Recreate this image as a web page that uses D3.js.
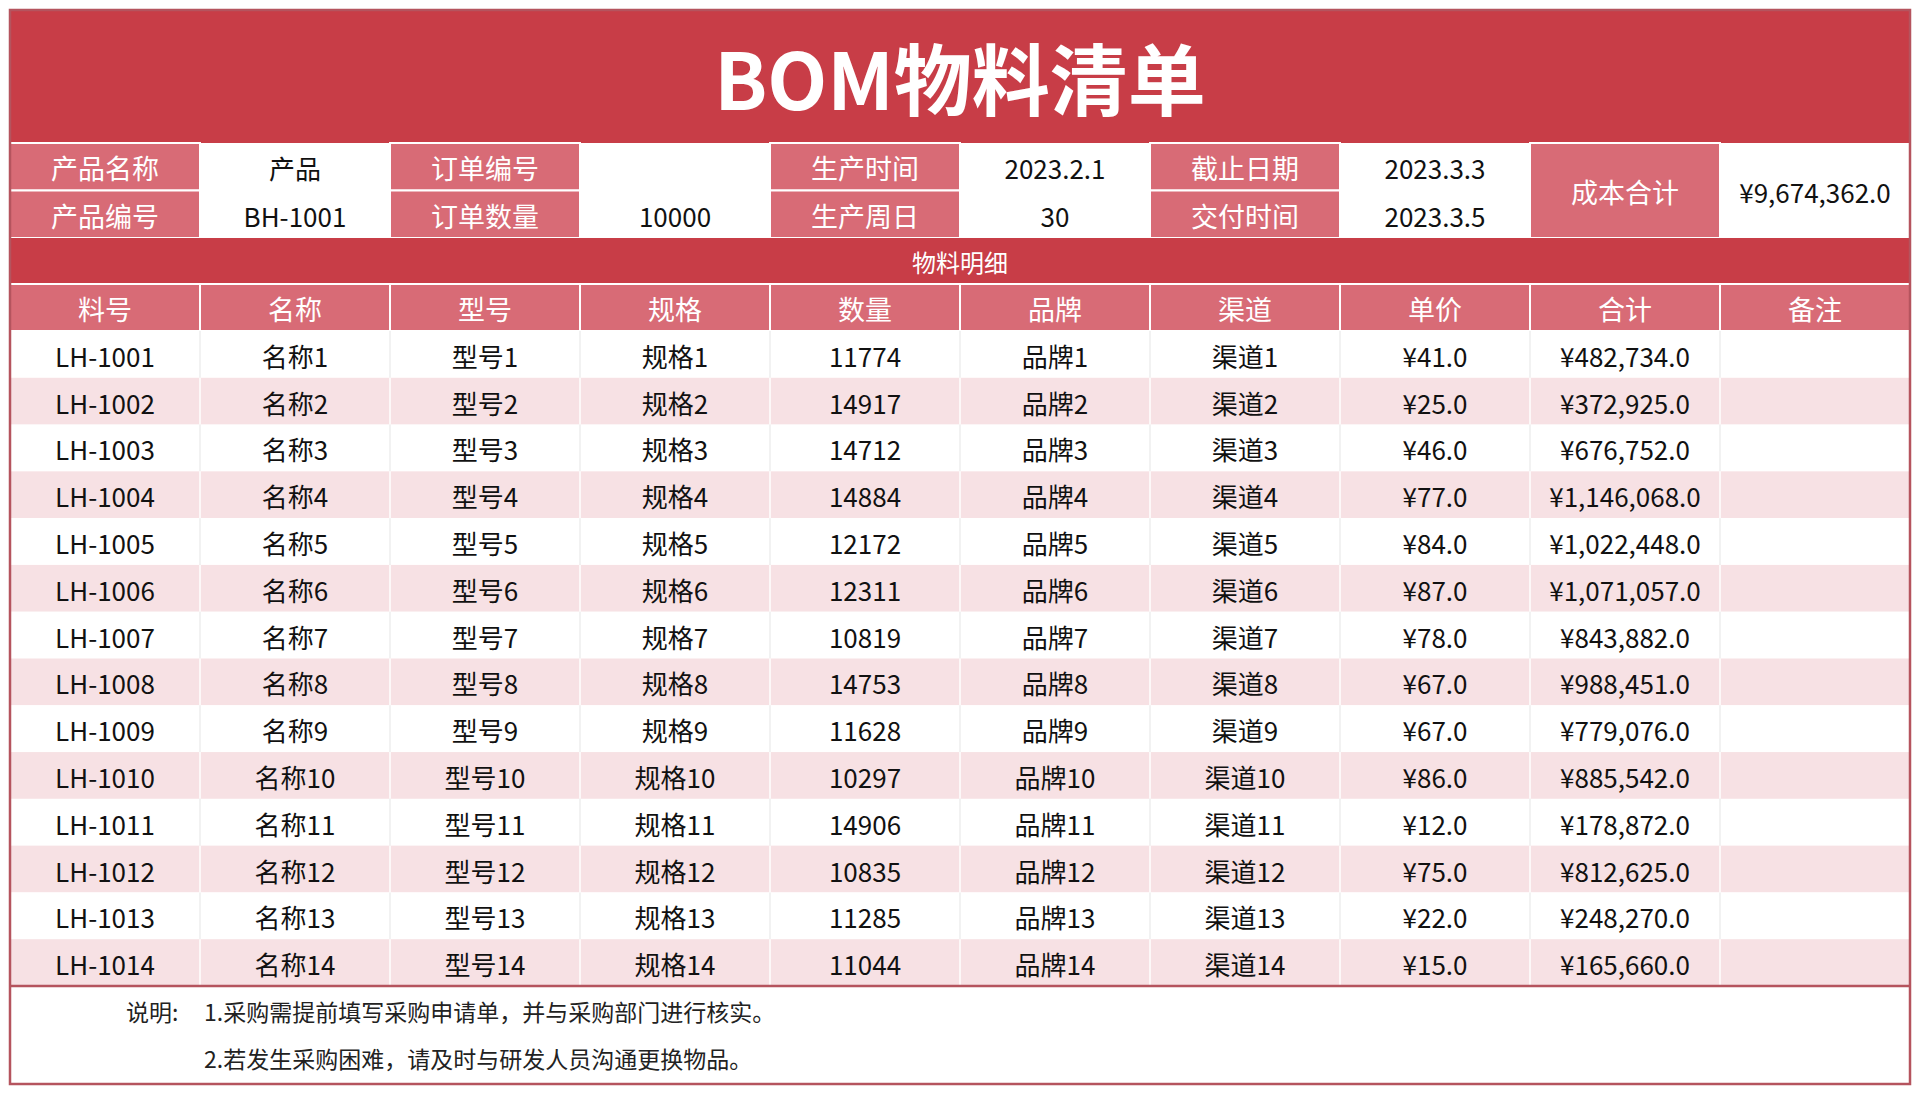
<!DOCTYPE html>
<html><head><meta charset="utf-8">
<script src="https://cdn.jsdelivr.net/npm/d3@7"></script>
<style>body{margin:0;background:#fff}text{font-family:"Noto Sans CJK SC","Noto Sans",sans-serif}</style>
</head><body><svg id="c" width="1920" height="1094"></svg>
<script>
const title = "BOM物料清单";
const headers = ["料号","名称","型号","规格","数量","品牌","渠道","单价","合计","备注"];
const codes = ["LH-1001","LH-1002","LH-1003","LH-1004","LH-1005","LH-1006","LH-1007","LH-1008","LH-1009","LH-1010","LH-1011","LH-1012","LH-1013","LH-1014"];
const qty = [11774,14917,14712,14884,12172,12311,10819,14753,11628,10297,14906,10835,11285,11044];
const price = [41,25,46,77,84,87,78,67,67,86,12,75,22,15];
const info = [
  ["产品名称","产品","订单编号","","生产时间","2023.2.1","截止日期","2023.3.3"],
  ["产品编号","BH-1001","订单数量","10000","生产周日","30","交付时间","2023.3.5"]
];
const costLabel = "成本合计", costTotal = 9674362;
const notes = ["1.采购需提前填写采购申请单，并与采购部门进行核实。","2.若发生采购困难，请及时与研发人员沟通更换物品。"];

const svg = d3.select("#c");
const L=10,R=1910;
const x = d3.scaleBand().domain(d3.range(10)).range([L,R]);
const cw = x.bandwidth();
const red="#C83D47", mid="#D86B76", stripe="#F7E1E4";
const fmt = v => "¥" + d3.format(",.1f")(v);

svg.append("rect").attr("x",L).attr("y",10).attr("width",R-L).attr("height",133).attr("fill",red);
svg.append("text").attr("x",(L+R)/2).attr("y",76).attr("text-anchor","middle").attr("dominant-baseline","central")
  .attr("fill","#fff").attr("font-size",78).attr("font-weight","bold").text(title);

const iy = d3.scaleBand().domain([0,1]).range([143,238]);
const ih = iy.bandwidth();
svg.append("rect").attr("x",L).attr("y",143).attr("width",R-L).attr("height",95).attr("fill","#fff");
info.forEach((row,r)=>row.forEach((t,c)=>{
  const isLab = c%2===0;
  if(isLab) svg.append("rect").attr("x",x(c)).attr("y",iy(r)).attr("width",cw).attr("height",ih)
     .attr("fill",mid).attr("stroke","#fff").attr("stroke-width",2);
  svg.append("text").attr("x",x(c)+cw/2).attr("y",iy(r)+ih/2+1).attr("text-anchor","middle").attr("dominant-baseline","central")
     .attr("font-size",isLab?27:26).attr("fill",isLab?"#fff":"#111").text(t);
}));
svg.append("rect").attr("x",x(8)).attr("y",143).attr("width",cw).attr("height",95).attr("fill",mid).attr("stroke","#fff").attr("stroke-width",2);
svg.append("text").attr("x",x(8)+cw/2).attr("y",191).attr("text-anchor","middle").attr("dominant-baseline","central").attr("font-size",27).attr("fill","#fff").text(costLabel);
svg.append("text").attr("x",x(9)+cw/2).attr("y",191).attr("text-anchor","middle").attr("dominant-baseline","central").attr("font-size",26).attr("fill","#111").text(fmt(costTotal));

svg.append("rect").attr("x",L).attr("y",238).attr("width",R-L).attr("height",46).attr("fill",red);
svg.append("text").attr("x",(L+R)/2).attr("y",261).attr("text-anchor","middle").attr("dominant-baseline","central").attr("font-size",24).attr("fill","#fff").text("物料明细");

headers.forEach((h,c)=>{
  svg.append("rect").attr("x",x(c)).attr("y",284).attr("width",cw).attr("height",47).attr("fill",mid).attr("stroke","#fff").attr("stroke-width",2);
  svg.append("text").attr("x",x(c)+cw/2).attr("y",308).attr("text-anchor","middle").attr("dominant-baseline","central").attr("font-size",27).attr("fill","#fff").text(h);
});

const y = d3.scaleBand().domain(d3.range(codes.length)).range([331,986]);
const rh = y.bandwidth();
codes.forEach((code,i)=>{
  const n=i+1;
  const vals=[code,"名称"+n,"型号"+n,"规格"+n,String(qty[i]),"品牌"+n,"渠道"+n,fmt(price[i]),fmt(qty[i]*price[i]),""];
  svg.append("rect").attr("x",L).attr("y",y(i)).attr("width",R-L).attr("height",rh).attr("fill",i%2?stripe:"#fff");
  vals.forEach((v,c)=>{
    if(c>0) svg.append("line").attr("x1",x(c)).attr("x2",x(c)).attr("y1",y(i)).attr("y2",y(i)+rh).attr("stroke",i%2?"#fff":"#eee").attr("stroke-width",1.5);
    svg.append("text").attr("x",x(c)+cw/2).attr("y",y(i)+rh/2+1).attr("text-anchor","middle").attr("dominant-baseline","central").attr("font-size",26).attr("fill","#111").text(v);
  });
});
svg.append("line").attr("x1",L).attr("x2",R).attr("y1",986).attr("y2",986).attr("stroke","#B5545E").attr("stroke-width",2.5);
svg.append("text").attr("x",126).attr("y",1011).attr("dominant-baseline","central").attr("font-size",23).attr("fill","#222").text("说明:");
notes.forEach((t,i)=>svg.append("text").attr("x",204).attr("y",1011+i*47).attr("dominant-baseline","central").attr("font-size",23).attr("fill","#222").text(t));
svg.append("rect").attr("x",L).attr("y",10).attr("width",R-L).attr("height",1074).attr("fill","none").attr("stroke","#B5545E").attr("stroke-width",2.5);
</script></body></html>
